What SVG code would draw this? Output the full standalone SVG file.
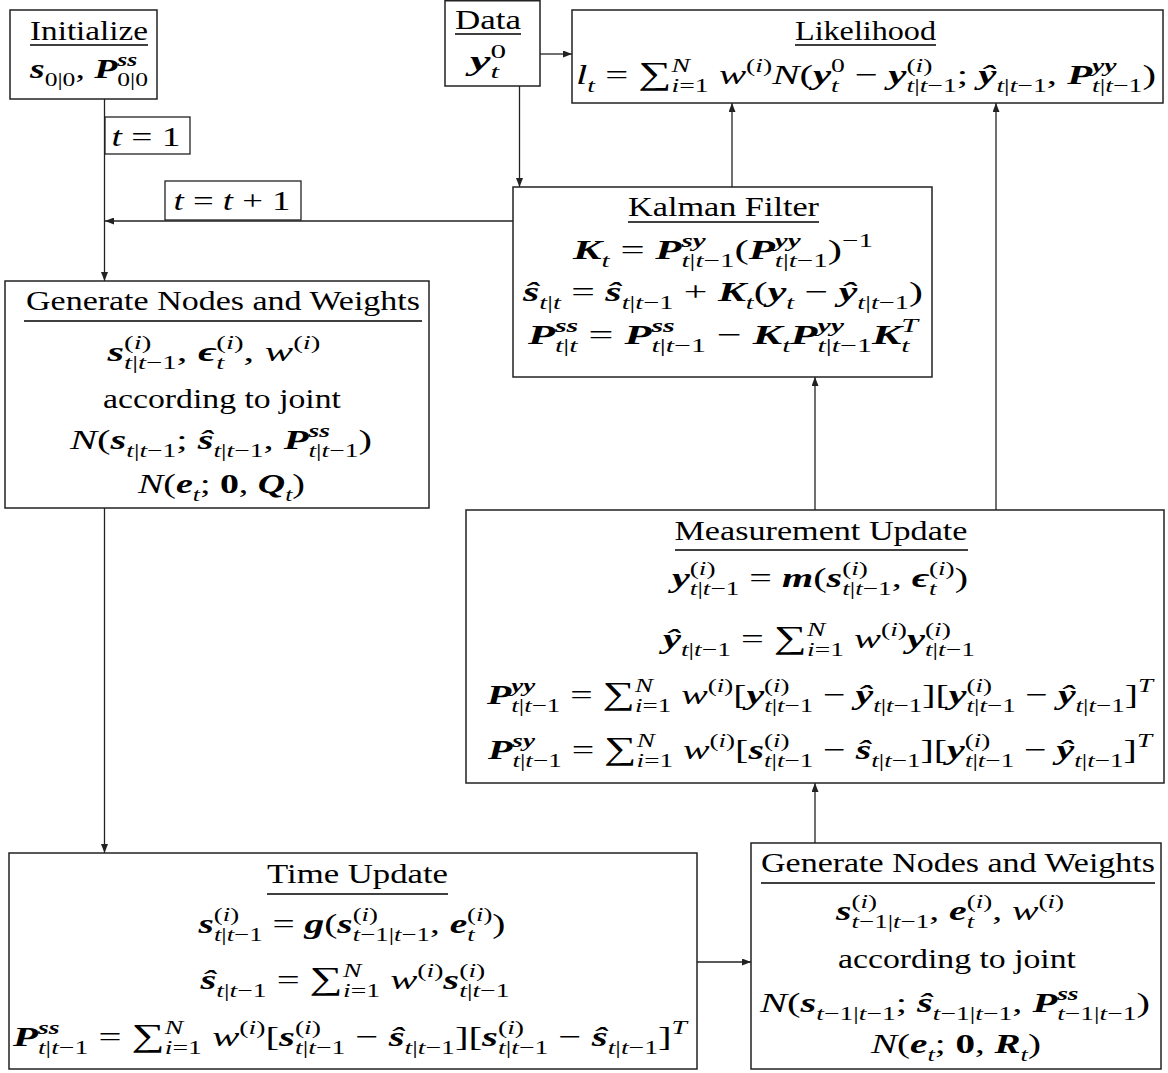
<svg xmlns="http://www.w3.org/2000/svg" width="1168" height="1073" viewBox="0 0 1168 1073">
<style>
text { font-family: "Liberation Serif","DejaVu Serif",serif; fill:#000; }
.h { font-size: 27px; }
.m { font-size: 28px; }
.i { font-style: italic; }
.bi { font-style: italic; font-weight: bold; }
.b { font-weight: bold; }
.c { font-size: 19px; }
.sum { font-size: 32px; }
.box { fill: #fff; stroke: #222; stroke-width: 1.5; }
.ul { stroke: #000; stroke-width: 1.3; }
.conn { stroke: #222; stroke-width: 1.3; fill: none; }
.lbl { fill: #fff; stroke: #222; stroke-width: 1.3; }
</style>
<defs>
<marker id="ah" markerUnits="userSpaceOnUse" markerWidth="9" markerHeight="7" refX="9" refY="3.5" orient="auto">
<path d="M0,0 L9,3.5 L0,7 z" fill="#222"/>
</marker>
</defs>
<rect width="1168" height="1073" fill="#fff"/>

<g id="connectors">
<line class="conn" x1="104.5" y1="99" x2="104.5" y2="281" marker-end="url(#ah)"/>
<line class="conn" x1="513" y1="221" x2="105" y2="221" marker-end="url(#ah)"/>
<line class="conn" x1="540" y1="54" x2="572" y2="54" marker-end="url(#ah)"/>
<line class="conn" x1="519.5" y1="86" x2="519.5" y2="187" marker-end="url(#ah)"/>
<line class="conn" x1="732" y1="187" x2="732" y2="103" marker-end="url(#ah)"/>
<line class="conn" x1="996" y1="510" x2="996" y2="103" marker-end="url(#ah)"/>
<line class="conn" x1="815" y1="510" x2="815" y2="377" marker-end="url(#ah)"/>
<line class="conn" x1="104.5" y1="508" x2="104.5" y2="853" marker-end="url(#ah)"/>
<line class="conn" x1="697" y1="962" x2="751" y2="962" marker-end="url(#ah)"/>
<line class="conn" x1="815" y1="843" x2="815" y2="783" marker-end="url(#ah)"/>
<g id="label-t1">
<rect class="lbl" x="105" y="117" width="85" height="37"/>
<text class="m" x="146" y="146" text-anchor="middle" textLength="69" lengthAdjust="spacingAndGlyphs"><tspan class="i">t</tspan> = 1</text>
</g>
<g id="label-tt1">
<rect class="lbl" x="165" y="181" width="136" height="39"/>
<text class="m" x="232" y="210" text-anchor="middle" textLength="117" lengthAdjust="spacingAndGlyphs"><tspan class="i">t</tspan> = <tspan class="i">t</tspan> + 1</text>
</g>
</g>

<g id="initialize">
<rect class="box" x="10" y="10" width="147" height="89"/>
<text class="h" x="89" y="40" text-anchor="middle" textLength="118" lengthAdjust="spacingAndGlyphs">Initialize</text>
<line class="ul" x1="30" y1="45" x2="148" y2="45"/>
<text class="m" x="89" y="78" text-anchor="middle" textLength="118" lengthAdjust="spacingAndGlyphs"><tspan class="bi">s</tspan><tspan class="c" dy="8">0|0</tspan><tspan dy="-8">, </tspan><tspan class="bi">P</tspan><tspan class="c bi" dy="-12">ss</tspan><tspan class="c" dx="-14.8" dy="20">0|0</tspan></text>
</g>

<g id="data">
<rect class="box" x="445" y="0.75" width="95" height="85.25"/>
<text class="h" x="488" y="29" text-anchor="middle" textLength="66" lengthAdjust="spacingAndGlyphs">Data</text>
<line class="ul" x1="455" y1="34" x2="521" y2="34"/>
<text class="m" x="488" y="70" text-anchor="middle" textLength="36" lengthAdjust="spacingAndGlyphs"><tspan class="bi">y</tspan><tspan class="c i" dy="8">t</tspan><tspan class="c" dx="-5.3" dy="-20">0</tspan></text>
</g>

<g id="likelihood">
<rect class="box" x="572" y="10" width="591" height="93"/>
<text class="h" x="865.5" y="40" text-anchor="middle" textLength="141" lengthAdjust="spacingAndGlyphs">Likelihood</text>
<line class="ul" x1="795" y1="45" x2="936" y2="45"/>
<text class="m" x="866" y="84" text-anchor="middle" textLength="580" lengthAdjust="spacingAndGlyphs"><tspan class="i">l</tspan><tspan class="c i" dy="8">t</tspan><tspan dy="-8"> = </tspan><tspan class="sum">∑</tspan><tspan class="c i" dy="-12">N</tspan><tspan class="c" dx="-12.7" dy="20"><tspan class="i">i</tspan>=1</tspan><tspan dy="-8"> </tspan><tspan class="i">w</tspan><tspan class="c" dy="-12">(<tspan class="i">i</tspan>)</tspan><tspan class="i" dy="12">N</tspan>(<tspan class="bi">y</tspan><tspan class="c i" dy="8">t</tspan><tspan class="c" dx="-5.3" dy="-20">0</tspan><tspan dy="12"> − </tspan><tspan class="bi">y</tspan><tspan class="c" dy="-12">(<tspan class="i">i</tspan>)</tspan><tspan class="c" dx="-17.9" dy="20"><tspan class="i">t</tspan>|<tspan class="i">t</tspan>−1</tspan><tspan dy="-8">; </tspan><tspan class="bi">ŷ</tspan><tspan class="c" dy="8"><tspan class="i">t</tspan>|<tspan class="i">t</tspan>−1</tspan><tspan dy="-8">, </tspan><tspan class="bi">P</tspan><tspan class="c bi" dy="-12">yy</tspan><tspan class="c" dx="-16.9" dy="20"><tspan class="i">t</tspan>|<tspan class="i">t</tspan>−1</tspan><tspan dy="-8">)</tspan></text>
</g>

<g id="kalman-filter">
<rect class="box" x="513" y="187" width="419" height="190"/>
<text class="h" x="723.5" y="216" text-anchor="middle" textLength="191" lengthAdjust="spacingAndGlyphs">Kalman Filter</text>
<line class="ul" x1="628" y1="222" x2="819" y2="222"/>
<text class="m" x="723" y="259" text-anchor="middle" textLength="300" lengthAdjust="spacingAndGlyphs"><tspan class="bi">K</tspan><tspan class="c i" dy="8">t</tspan><tspan dy="-8"> = </tspan><tspan class="bi">P</tspan><tspan class="c bi" dy="-12">sy</tspan><tspan class="c" dx="-15.8" dy="20"><tspan class="i">t</tspan>|<tspan class="i">t</tspan>−1</tspan><tspan dy="-8">(</tspan><tspan class="bi">P</tspan><tspan class="c bi" dy="-12">yy</tspan><tspan class="c" dx="-16.9" dy="20"><tspan class="i">t</tspan>|<tspan class="i">t</tspan>−1</tspan><tspan dy="-8">)</tspan><tspan class="c" dy="-12">−1</tspan></text>
<text class="m" x="723" y="301" text-anchor="middle" textLength="400" lengthAdjust="spacingAndGlyphs"><tspan class="bi">ŝ</tspan><tspan class="c" dy="8"><tspan class="i">t</tspan>|<tspan class="i">t</tspan></tspan><tspan dy="-8"> = </tspan><tspan class="bi">ŝ</tspan><tspan class="c" dy="8"><tspan class="i">t</tspan>|<tspan class="i">t</tspan>−1</tspan><tspan dy="-8"> + </tspan><tspan class="bi">K</tspan><tspan class="c i" dy="8">t</tspan><tspan dy="-8">(</tspan><tspan class="bi">y</tspan><tspan class="c i" dy="8">t</tspan><tspan dy="-8"> − </tspan><tspan class="bi">ŷ</tspan><tspan class="c" dy="8"><tspan class="i">t</tspan>|<tspan class="i">t</tspan>−1</tspan><tspan dy="-8">)</tspan></text>
<text class="m" x="723" y="344" text-anchor="middle" textLength="390" lengthAdjust="spacingAndGlyphs"><tspan class="bi">P</tspan><tspan class="c bi" dy="-12">ss</tspan><tspan class="c" dx="-14.8" dy="20"><tspan class="i">t</tspan>|<tspan class="i">t</tspan></tspan><tspan dy="-8"> = </tspan><tspan class="bi">P</tspan><tspan class="c bi" dy="-12">ss</tspan><tspan class="c" dx="-14.8" dy="20"><tspan class="i">t</tspan>|<tspan class="i">t</tspan>−1</tspan><tspan dy="-8"> − </tspan><tspan class="bi">K</tspan><tspan class="c i" dy="8">t</tspan><tspan class="bi" dy="-8">P</tspan><tspan class="c bi" dy="-12">yy</tspan><tspan class="c" dx="-16.9" dy="20"><tspan class="i">t</tspan>|<tspan class="i">t</tspan>−1</tspan><tspan class="bi" dy="-8">K</tspan><tspan class="c i" dy="8">t</tspan><tspan class="c i" dx="-5.3" dy="-20">T</tspan></text>
</g>

<g id="generate-nodes-1">
<rect class="box" x="5" y="281" width="424" height="227"/>
<text class="h" x="223" y="310" text-anchor="middle" textLength="394" lengthAdjust="spacingAndGlyphs">Generate Nodes and Weights</text>
<line class="ul" x1="24" y1="321" x2="422" y2="321"/>
<text class="m" x="214" y="361" text-anchor="middle" textLength="213" lengthAdjust="spacingAndGlyphs"><tspan class="bi">s</tspan><tspan class="c" dy="-12">(<tspan class="i">i</tspan>)</tspan><tspan class="c" dx="-17.9" dy="20"><tspan class="i">t</tspan>|<tspan class="i">t</tspan>−1</tspan><tspan dy="-8">, </tspan><tspan class="bi">ϵ</tspan><tspan class="c i" dy="8">t</tspan><tspan class="c" dx="-5.3" dy="-20">(<tspan class="i">i</tspan>)</tspan><tspan dy="12">, </tspan><tspan class="i">w</tspan><tspan class="c" dy="-12">(<tspan class="i">i</tspan>)</tspan></text>
<text class="m" x="222" y="408" text-anchor="middle" textLength="238" lengthAdjust="spacingAndGlyphs">according to joint</text>
<text class="m" x="221" y="449" text-anchor="middle" textLength="302" lengthAdjust="spacingAndGlyphs"><tspan class="i">N</tspan>(<tspan class="bi">s</tspan><tspan class="c" dy="8"><tspan class="i">t</tspan>|<tspan class="i">t</tspan>−1</tspan><tspan dy="-8">; </tspan><tspan class="bi">ŝ</tspan><tspan class="c" dy="8"><tspan class="i">t</tspan>|<tspan class="i">t</tspan>−1</tspan><tspan dy="-8">, </tspan><tspan class="bi">P</tspan><tspan class="c bi" dy="-12">ss</tspan><tspan class="c" dx="-14.8" dy="20"><tspan class="i">t</tspan>|<tspan class="i">t</tspan>−1</tspan><tspan dy="-8">)</tspan></text>
<text class="m" x="221.5" y="493" text-anchor="middle" textLength="167" lengthAdjust="spacingAndGlyphs"><tspan class="i">N</tspan>(<tspan class="bi">e</tspan><tspan class="c i" dy="8">t</tspan><tspan dy="-8">; </tspan><tspan class="b">0</tspan>, <tspan class="bi">Q</tspan><tspan class="c i" dy="8">t</tspan><tspan dy="-8">)</tspan></text>
</g>

<g id="measurement-update">
<rect class="box" x="466" y="510" width="698" height="273"/>
<text class="h" x="821" y="540" text-anchor="middle" textLength="293" lengthAdjust="spacingAndGlyphs">Measurement Update</text>
<line class="ul" x1="675" y1="550" x2="968" y2="550"/>
<text class="m" x="820" y="587" text-anchor="middle" textLength="296" lengthAdjust="spacingAndGlyphs"><tspan class="bi">y</tspan><tspan class="c" dy="-12">(<tspan class="i">i</tspan>)</tspan><tspan class="c" dx="-17.9" dy="20"><tspan class="i">t</tspan>|<tspan class="i">t</tspan>−1</tspan><tspan dy="-8"> = </tspan><tspan class="bi">m</tspan>(<tspan class="bi">s</tspan><tspan class="c" dy="-12">(<tspan class="i">i</tspan>)</tspan><tspan class="c" dx="-17.9" dy="20"><tspan class="i">t</tspan>|<tspan class="i">t</tspan>−1</tspan><tspan dy="-8">, </tspan><tspan class="bi">ϵ</tspan><tspan class="c i" dy="8">t</tspan><tspan class="c" dx="-5.3" dy="-20">(<tspan class="i">i</tspan>)</tspan><tspan dy="12">)</tspan></text>
<text class="m" x="819" y="648" text-anchor="middle" textLength="312" lengthAdjust="spacingAndGlyphs"><tspan class="bi">ŷ</tspan><tspan class="c" dy="8"><tspan class="i">t</tspan>|<tspan class="i">t</tspan>−1</tspan><tspan dy="-8"> = </tspan><tspan class="sum">∑</tspan><tspan class="c i" dy="-12">N</tspan><tspan class="c" dx="-12.7" dy="20"><tspan class="i">i</tspan>=1</tspan><tspan dy="-8"> </tspan><tspan class="i">w</tspan><tspan class="c" dy="-12">(<tspan class="i">i</tspan>)</tspan><tspan class="bi" dy="12">y</tspan><tspan class="c" dy="-12">(<tspan class="i">i</tspan>)</tspan><tspan class="c" dx="-17.9" dy="20"><tspan class="i">t</tspan>|<tspan class="i">t</tspan>−1</tspan></text>
<text class="m" x="820" y="704" text-anchor="middle" textLength="666" lengthAdjust="spacingAndGlyphs"><tspan class="bi">P</tspan><tspan class="c bi" dy="-12">yy</tspan><tspan class="c" dx="-16.9" dy="20"><tspan class="i">t</tspan>|<tspan class="i">t</tspan>−1</tspan><tspan dy="-8"> = </tspan><tspan class="sum">∑</tspan><tspan class="c i" dy="-12">N</tspan><tspan class="c" dx="-12.7" dy="20"><tspan class="i">i</tspan>=1</tspan><tspan dy="-8"> </tspan><tspan class="i">w</tspan><tspan class="c" dy="-12">(<tspan class="i">i</tspan>)</tspan><tspan dy="12">[</tspan><tspan class="bi">y</tspan><tspan class="c" dy="-12">(<tspan class="i">i</tspan>)</tspan><tspan class="c" dx="-17.9" dy="20"><tspan class="i">t</tspan>|<tspan class="i">t</tspan>−1</tspan><tspan dy="-8"> − </tspan><tspan class="bi">ŷ</tspan><tspan class="c" dy="8"><tspan class="i">t</tspan>|<tspan class="i">t</tspan>−1</tspan><tspan dy="-8">][</tspan><tspan class="bi">y</tspan><tspan class="c" dy="-12">(<tspan class="i">i</tspan>)</tspan><tspan class="c" dx="-17.9" dy="20"><tspan class="i">t</tspan>|<tspan class="i">t</tspan>−1</tspan><tspan dy="-8"> − </tspan><tspan class="bi">ŷ</tspan><tspan class="c" dy="8"><tspan class="i">t</tspan>|<tspan class="i">t</tspan>−1</tspan><tspan dy="-8">]</tspan><tspan class="c i" dy="-12">T</tspan></text>
<text class="m" x="820" y="759" text-anchor="middle" textLength="664" lengthAdjust="spacingAndGlyphs"><tspan class="bi">P</tspan><tspan class="c bi" dy="-12">sy</tspan><tspan class="c" dx="-15.8" dy="20"><tspan class="i">t</tspan>|<tspan class="i">t</tspan>−1</tspan><tspan dy="-8"> = </tspan><tspan class="sum">∑</tspan><tspan class="c i" dy="-12">N</tspan><tspan class="c" dx="-12.7" dy="20"><tspan class="i">i</tspan>=1</tspan><tspan dy="-8"> </tspan><tspan class="i">w</tspan><tspan class="c" dy="-12">(<tspan class="i">i</tspan>)</tspan><tspan dy="12">[</tspan><tspan class="bi">s</tspan><tspan class="c" dy="-12">(<tspan class="i">i</tspan>)</tspan><tspan class="c" dx="-17.9" dy="20"><tspan class="i">t</tspan>|<tspan class="i">t</tspan>−1</tspan><tspan dy="-8"> − </tspan><tspan class="bi">ŝ</tspan><tspan class="c" dy="8"><tspan class="i">t</tspan>|<tspan class="i">t</tspan>−1</tspan><tspan dy="-8">][</tspan><tspan class="bi">y</tspan><tspan class="c" dy="-12">(<tspan class="i">i</tspan>)</tspan><tspan class="c" dx="-17.9" dy="20"><tspan class="i">t</tspan>|<tspan class="i">t</tspan>−1</tspan><tspan dy="-8"> − </tspan><tspan class="bi">ŷ</tspan><tspan class="c" dy="8"><tspan class="i">t</tspan>|<tspan class="i">t</tspan>−1</tspan><tspan dy="-8">]</tspan><tspan class="c i" dy="-12">T</tspan></text>
</g>

<g id="time-update">
<rect class="box" x="9" y="853" width="688" height="216"/>
<text class="h" x="357.5" y="883" text-anchor="middle" textLength="181" lengthAdjust="spacingAndGlyphs">Time Update</text>
<line class="ul" x1="267" y1="894" x2="448" y2="894"/>
<text class="m" x="352" y="933" text-anchor="middle" textLength="307" lengthAdjust="spacingAndGlyphs"><tspan class="bi">s</tspan><tspan class="c" dy="-12">(<tspan class="i">i</tspan>)</tspan><tspan class="c" dx="-17.9" dy="20"><tspan class="i">t</tspan>|<tspan class="i">t</tspan>−1</tspan><tspan dy="-8"> = </tspan><tspan class="bi">g</tspan>(<tspan class="bi">s</tspan><tspan class="c" dy="-12">(<tspan class="i">i</tspan>)</tspan><tspan class="c" dx="-17.9" dy="20"><tspan class="i">t</tspan>−1|<tspan class="i">t</tspan>−1</tspan><tspan dy="-8">, </tspan><tspan class="bi">e</tspan><tspan class="c i" dy="8">t</tspan><tspan class="c" dx="-5.3" dy="-20">(<tspan class="i">i</tspan>)</tspan><tspan dy="12">)</tspan></text>
<text class="m" x="355" y="989" text-anchor="middle" textLength="309" lengthAdjust="spacingAndGlyphs"><tspan class="bi">ŝ</tspan><tspan class="c" dy="8"><tspan class="i">t</tspan>|<tspan class="i">t</tspan>−1</tspan><tspan dy="-8"> = </tspan><tspan class="sum">∑</tspan><tspan class="c i" dy="-12">N</tspan><tspan class="c" dx="-12.7" dy="20"><tspan class="i">i</tspan>=1</tspan><tspan dy="-8"> </tspan><tspan class="i">w</tspan><tspan class="c" dy="-12">(<tspan class="i">i</tspan>)</tspan><tspan class="bi" dy="12">s</tspan><tspan class="c" dy="-12">(<tspan class="i">i</tspan>)</tspan><tspan class="c" dx="-17.9" dy="20"><tspan class="i">t</tspan>|<tspan class="i">t</tspan>−1</tspan></text>
<text class="m" x="350" y="1046" text-anchor="middle" textLength="674" lengthAdjust="spacingAndGlyphs"><tspan class="bi">P</tspan><tspan class="c bi" dy="-12">ss</tspan><tspan class="c" dx="-14.8" dy="20"><tspan class="i">t</tspan>|<tspan class="i">t</tspan>−1</tspan><tspan dy="-8"> = </tspan><tspan class="sum">∑</tspan><tspan class="c i" dy="-12">N</tspan><tspan class="c" dx="-12.7" dy="20"><tspan class="i">i</tspan>=1</tspan><tspan dy="-8"> </tspan><tspan class="i">w</tspan><tspan class="c" dy="-12">(<tspan class="i">i</tspan>)</tspan><tspan dy="12">[</tspan><tspan class="bi">s</tspan><tspan class="c" dy="-12">(<tspan class="i">i</tspan>)</tspan><tspan class="c" dx="-17.9" dy="20"><tspan class="i">t</tspan>|<tspan class="i">t</tspan>−1</tspan><tspan dy="-8"> − </tspan><tspan class="bi">ŝ</tspan><tspan class="c" dy="8"><tspan class="i">t</tspan>|<tspan class="i">t</tspan>−1</tspan><tspan dy="-8">][</tspan><tspan class="bi">s</tspan><tspan class="c" dy="-12">(<tspan class="i">i</tspan>)</tspan><tspan class="c" dx="-17.9" dy="20"><tspan class="i">t</tspan>|<tspan class="i">t</tspan>−1</tspan><tspan dy="-8"> − </tspan><tspan class="bi">ŝ</tspan><tspan class="c" dy="8"><tspan class="i">t</tspan>|<tspan class="i">t</tspan>−1</tspan><tspan dy="-8">]</tspan><tspan class="c i" dy="-12">T</tspan></text>
</g>

<g id="generate-nodes-2">
<rect class="box" x="751" y="843" width="410" height="226"/>
<text class="h" x="958" y="872" text-anchor="middle" textLength="394" lengthAdjust="spacingAndGlyphs">Generate Nodes and Weights</text>
<line class="ul" x1="761" y1="883" x2="1155" y2="883"/>
<text class="m" x="950" y="920" text-anchor="middle" textLength="228" lengthAdjust="spacingAndGlyphs"><tspan class="bi">s</tspan><tspan class="c" dy="-12">(<tspan class="i">i</tspan>)</tspan><tspan class="c" dx="-17.9" dy="20"><tspan class="i">t</tspan>−1|<tspan class="i">t</tspan>−1</tspan><tspan dy="-8">, </tspan><tspan class="bi">e</tspan><tspan class="c i" dy="8">t</tspan><tspan class="c" dx="-5.3" dy="-20">(<tspan class="i">i</tspan>)</tspan><tspan dy="12">, </tspan><tspan class="i">w</tspan><tspan class="c" dy="-12">(<tspan class="i">i</tspan>)</tspan></text>
<text class="m" x="957" y="968" text-anchor="middle" textLength="238" lengthAdjust="spacingAndGlyphs">according to joint</text>
<text class="m" x="955" y="1012" text-anchor="middle" textLength="390" lengthAdjust="spacingAndGlyphs"><tspan class="i">N</tspan>(<tspan class="bi">s</tspan><tspan class="c" dy="8"><tspan class="i">t</tspan>−1|<tspan class="i">t</tspan>−1</tspan><tspan dy="-8">; </tspan><tspan class="bi">ŝ</tspan><tspan class="c" dy="8"><tspan class="i">t</tspan>−1|<tspan class="i">t</tspan>−1</tspan><tspan dy="-8">, </tspan><tspan class="bi">P</tspan><tspan class="c bi" dy="-12">ss</tspan><tspan class="c" dx="-14.8" dy="20"><tspan class="i">t</tspan>−1|<tspan class="i">t</tspan>−1</tspan><tspan dy="-8">)</tspan></text>
<text class="m" x="956" y="1053" text-anchor="middle" textLength="170" lengthAdjust="spacingAndGlyphs"><tspan class="i">N</tspan>(<tspan class="bi">e</tspan><tspan class="c i" dy="8">t</tspan><tspan dy="-8">; </tspan><tspan class="b">0</tspan>, <tspan class="bi">R</tspan><tspan class="c i" dy="8">t</tspan><tspan dy="-8">)</tspan></text>
</g>
</svg>
